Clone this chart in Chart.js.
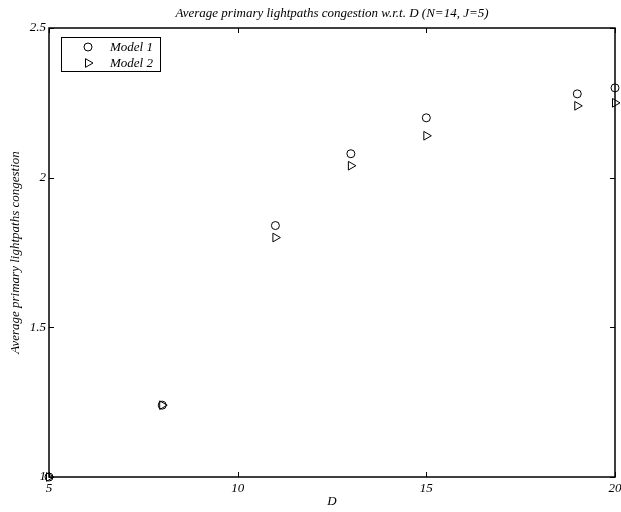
<!DOCTYPE html>
<html>
<head>
<meta charset="utf-8">
<script src="https://cdn.jsdelivr.net/npm/chart.js@4/dist/chart.umd.min.js"></script>
<style>
  html, body { margin: 0; padding: 0; background: #fff; }
  #wrap { width: 621px; height: 512px; }
</style>
</head>
<body>
<div id="wrap"><canvas id="chart" width="621" height="512"></canvas></div>
<script>
// Data
const dValues = [5, 8, 11, 13, 15, 19, 20];
const model1 = [1.0, 1.24, 1.84, 2.08, 2.2, 2.28, 2.3];
const model2 = [1.0, 1.24, 1.80, 2.04, 2.14, 2.24, 2.25];
const seriesLabels = ['Model 1', 'Model 2'];
const xTicks = [5, 10, 15, 20];
const yTicks = [1, 1.5, 2, 2.5];

const serif = "'Liberation Serif', 'DejaVu Serif', serif";

function toPoints(ys) {
    return dValues.map((d, i) => ({ x: d, y: ys[i] }));
}

// frame, inward ticks and the boxed legend
const framePlugin = {
    id: 'frame',
    afterDatasetsDraw(chart) {
        const { ctx, chartArea: a, scales } = chart;
        ctx.save();
        ctx.strokeStyle = '#000';
        ctx.lineWidth = 1.5;
        ctx.strokeRect(a.left, a.top, a.right - a.left, a.bottom - a.top);
        ctx.lineWidth = 1;
        ctx.beginPath();
        xTicks.forEach(v => {
            const px = Math.round(scales.x.getPixelForValue(v)) + 0.5;
            ctx.moveTo(px, a.bottom); ctx.lineTo(px, a.bottom - 5);
            ctx.moveTo(px, a.top); ctx.lineTo(px, a.top + 5);
        });
        yTicks.forEach(v => {
            const py = Math.round(scales.y.getPixelForValue(v)) + 0.5;
            ctx.moveTo(a.left, py); ctx.lineTo(a.left + 5, py);
            ctx.moveTo(a.right, py); ctx.lineTo(a.right - 5, py);
        });
        ctx.stroke();

        // legend
        const lx = a.left + 12, ly = a.top + 9, lw = 99, lh = 34;
        ctx.fillStyle = '#fff';
        ctx.fillRect(lx, ly, lw, lh);
        ctx.strokeRect(lx + 0.5, ly + 0.5, lw, lh);
        ctx.font = 'italic 13px ' + serif;
        ctx.textBaseline = 'middle';
        chart.data.datasets.forEach((ds, i) => {
            const cy = ly + 10 + i * 16;
            ctx.fillStyle = '#fff';
            ctx.strokeStyle = '#000';
            Chart.helpers.drawPoint(ctx, {
                pointStyle: ds.pointStyle,
                radius: ds.pointRadius,
                rotation: ds.pointRotation || 0,
                borderWidth: 1
            }, lx + 27, cy);
            ctx.fillStyle = '#000';
            ctx.fillText(ds.label, lx + 49, cy + 1);
        });
        ctx.restore();
    }
};

new Chart(document.getElementById('chart'), {
    type: 'scatter',
    data: {
        datasets: [
            {
                label: seriesLabels[0],
                data: toPoints(model1),
                pointStyle: 'circle',
                pointRadius: 4,
                borderColor: '#000',
                backgroundColor: 'rgba(0,0,0,0)',
                borderWidth: 1,
                clip: false
            },
            {
                label: seriesLabels[1],
                data: toPoints(model2),
                pointStyle: 'triangle',
                pointRotation: 90,
                pointRadius: 5,
                borderColor: '#000',
                backgroundColor: 'rgba(0,0,0,0)',
                borderWidth: 1,
                clip: false
            }
        ]
    },
    options: {
        responsive: false,
        animation: false,
        layout: { padding: { left: 0, right: 5, top: 0, bottom: 0 } },
        plugins: {
            legend: { display: false },
            tooltip: { enabled: false },
            title: {
                display: true,
                fullSize: false,
                text: 'Average primary lightpaths congestion w.r.t. D (N=14, J=5)',
                color: '#000',
                font: { family: serif, size: 13, style: 'italic', weight: 'normal', lineHeight: 1.2 },
                padding: { top: 6, bottom: 6.4 }
            }
        },
        scales: {
            x: {
                type: 'linear',
                min: 5,
                max: 20,
                afterBuildTicks: s => { s.ticks = xTicks.map(v => ({ value: v })); },
                afterFit: s => { s.height = 35; s.paddingLeft = 0; s.paddingRight = 0; },
                grid: { display: false, drawTicks: false },
                border: { display: false },
                ticks: {
                    color: '#000',
                    padding: 4,
                    maxRotation: 0,
                    font: { family: serif, size: 13, style: 'italic' }
                },
                title: {
                    display: true,
                    text: 'D',
                    color: '#000',
                    font: { family: serif, size: 13, style: 'italic', lineHeight: 1.2 },
                    padding: { top: 0, bottom: 3 }
                }
            },
            y: {
                type: 'linear',
                min: 1,
                max: 2.5,
                afterBuildTicks: s => { s.ticks = yTicks.map(v => ({ value: v })); },
                afterFit: s => { s.width = 49; s.paddingTop = 0; s.paddingBottom = 0; },
                grid: { display: false, drawTicks: false },
                border: { display: false },
                ticks: {
                    color: '#000',
                    padding: 3,
                    font: { family: serif, size: 13, style: 'italic' },
                    callback: v => String(v)
                },
                title: {
                    display: true,
                    text: 'Average primary lightpaths congestion',
                    color: '#000',
                    font: { family: serif, size: 13, style: 'italic', lineHeight: 1.2 },
                    padding: { top: 8.2, bottom: 0 }
                }
            }
        }
    },
    plugins: [framePlugin]
});
</script>
</body>
</html>
